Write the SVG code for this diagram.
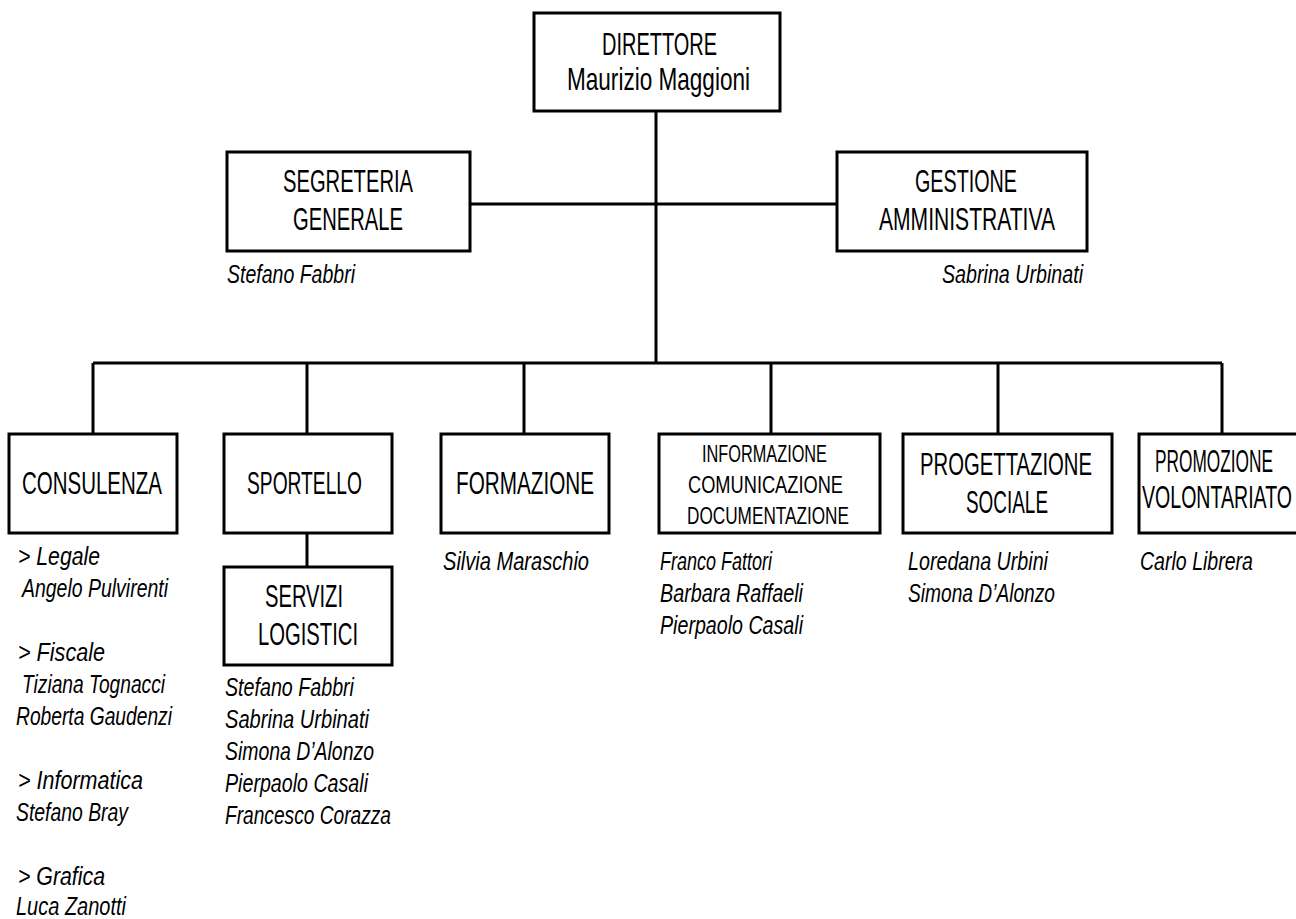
<svg xmlns="http://www.w3.org/2000/svg" width="1296" height="919" viewBox="0 0 1296 919">
<style>
.box{fill:#fff;stroke:#000;stroke-width:3}
.ln{fill:none;stroke:#000;stroke-width:3}
text{font-family:"Liberation Sans Narrow","Liberation Sans",Arial,sans-serif;fill:#000}
.lb{font-size:32px}
.sm{font-size:24px}
.nm{font-size:26px;font-style:italic}
</style>
<rect width="1296" height="919" fill="#fff"/>
<g id="connectors">
<path class="ln" d="M656 111V363M470 204H837M93 363H1222M93 363V434M307 363V434M524 363V434M771 363V434M998 363V434M1222 363V434M307 533V567"/>
</g>
<g id="direttore">
<rect class="box" x="534" y="13" width="246" height="98"/>
<text class="lb" x="602" y="55" textLength="115" lengthAdjust="spacingAndGlyphs">DIRETTORE</text>
<text class="lb" x="567" y="90" textLength="183" lengthAdjust="spacingAndGlyphs">Maurizio Maggioni</text>
</g>
<g id="segreteria">
<rect class="box" x="227" y="152" width="243" height="99"/>
<text class="lb" x="283" y="192" textLength="130" lengthAdjust="spacingAndGlyphs">SEGRETERIA</text>
<text class="lb" x="293" y="230" textLength="110" lengthAdjust="spacingAndGlyphs">GENERALE</text>
<text class="nm" x="227" y="283" textLength="128" lengthAdjust="spacingAndGlyphs">Stefano Fabbri</text>
</g>
<g id="gestione">
<rect class="box" x="837" y="152" width="250" height="99"/>
<text class="lb" x="915" y="192" textLength="102" lengthAdjust="spacingAndGlyphs">GESTIONE</text>
<text class="lb" x="879" y="230" textLength="176" lengthAdjust="spacingAndGlyphs">AMMINISTRATIVA</text>
<text class="nm" x="942" y="283" textLength="141" lengthAdjust="spacingAndGlyphs">Sabrina Urbinati</text>
</g>
<g id="consulenza">
<rect class="box" x="9" y="434" width="168" height="99"/>
<text class="lb" x="22" y="494" textLength="140" lengthAdjust="spacingAndGlyphs">CONSULENZA</text>
<text class="nm" x="18" y="565" textLength="82" lengthAdjust="spacingAndGlyphs">&gt; Legale</text>
<text class="nm" x="22" y="597" textLength="146" lengthAdjust="spacingAndGlyphs">Angelo Pulvirenti</text>
<text class="nm" x="18" y="661" textLength="87" lengthAdjust="spacingAndGlyphs">&gt; Fiscale</text>
<text class="nm" x="22" y="693" textLength="143" lengthAdjust="spacingAndGlyphs">Tiziana Tognacci</text>
<text class="nm" x="16" y="725" textLength="156" lengthAdjust="spacingAndGlyphs">Roberta Gaudenzi</text>
<text class="nm" x="18" y="789" textLength="125" lengthAdjust="spacingAndGlyphs">&gt; Informatica</text>
<text class="nm" x="16" y="821" textLength="112" lengthAdjust="spacingAndGlyphs">Stefano Bray</text>
<text class="nm" x="18" y="885" textLength="87" lengthAdjust="spacingAndGlyphs">&gt; Grafica</text>
<text class="nm" x="16" y="915" textLength="110" lengthAdjust="spacingAndGlyphs">Luca Zanotti</text>
</g>
<g id="sportello">
<rect class="box" x="224" y="434" width="168" height="99"/>
<text class="lb" x="247" y="494" textLength="115" lengthAdjust="spacingAndGlyphs">SPORTELLO</text>
</g>
<g id="servizi-logistici">
<rect class="box" x="224" y="567" width="168" height="98"/>
<text class="lb" x="265" y="607" textLength="78" lengthAdjust="spacingAndGlyphs">SERVIZI</text>
<text class="lb" x="258" y="645" textLength="100" lengthAdjust="spacingAndGlyphs">LOGISTICI</text>
<text class="nm" x="225" y="696" textLength="129" lengthAdjust="spacingAndGlyphs">Stefano Fabbri</text>
<text class="nm" x="225" y="728" textLength="144" lengthAdjust="spacingAndGlyphs">Sabrina Urbinati</text>
<text class="nm" x="225" y="760" textLength="149" lengthAdjust="spacingAndGlyphs">Simona D’Alonzo</text>
<text class="nm" x="225" y="792" textLength="143" lengthAdjust="spacingAndGlyphs">Pierpaolo Casali</text>
<text class="nm" x="225" y="824" textLength="166" lengthAdjust="spacingAndGlyphs">Francesco Corazza</text>
</g>
<g id="formazione">
<rect class="box" x="441" y="434" width="168" height="99"/>
<text class="lb" x="456" y="494" textLength="138" lengthAdjust="spacingAndGlyphs">FORMAZIONE</text>
<text class="nm" x="443" y="570" textLength="146" lengthAdjust="spacingAndGlyphs">Silvia Maraschio</text>
</g>
<g id="informazione">
<rect class="box" x="659" y="434" width="221" height="99"/>
<text class="sm" x="702" y="462" textLength="125" lengthAdjust="spacingAndGlyphs">INFORMAZIONE</text>
<text class="sm" x="688" y="493" textLength="155" lengthAdjust="spacingAndGlyphs">COMUNICAZIONE</text>
<text class="sm" x="687" y="524" textLength="162" lengthAdjust="spacingAndGlyphs">DOCUMENTAZIONE</text>
<text class="nm" x="660" y="570" textLength="112" lengthAdjust="spacingAndGlyphs">Franco Fattori</text>
<text class="nm" x="660" y="602" textLength="143" lengthAdjust="spacingAndGlyphs">Barbara Raffaeli</text>
<text class="nm" x="660" y="634" textLength="143" lengthAdjust="spacingAndGlyphs">Pierpaolo Casali</text>
</g>
<g id="progettazione">
<rect class="box" x="903" y="434" width="209" height="99"/>
<text class="lb" x="920" y="475" textLength="172" lengthAdjust="spacingAndGlyphs">PROGETTAZIONE</text>
<text class="lb" x="966" y="513" textLength="82" lengthAdjust="spacingAndGlyphs">SOCIALE</text>
<text class="nm" x="908" y="570" textLength="140" lengthAdjust="spacingAndGlyphs">Loredana Urbini</text>
<text class="nm" x="908" y="602" textLength="147" lengthAdjust="spacingAndGlyphs">Simona D’Alonzo</text>
</g>
<g id="promozione">
<rect class="box" x="1139" y="434" width="166" height="99"/>
<text class="lb" x="1155" y="472" textLength="118" lengthAdjust="spacingAndGlyphs">PROMOZIONE</text>
<text class="lb" x="1142" y="508" textLength="150" lengthAdjust="spacingAndGlyphs">VOLONTARIATO</text>
<text class="nm" x="1140" y="570" textLength="113" lengthAdjust="spacingAndGlyphs">Carlo Librera</text>
</g>
</svg>
